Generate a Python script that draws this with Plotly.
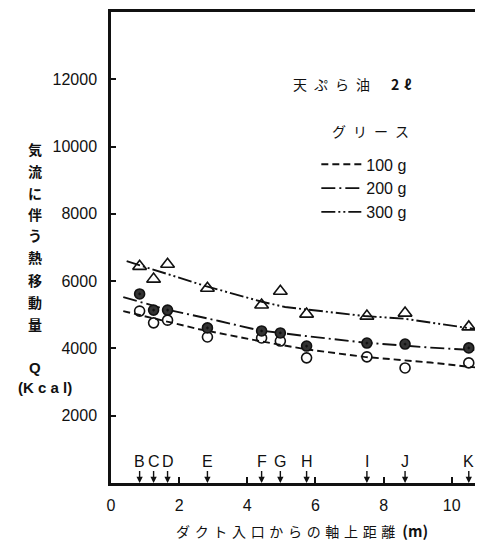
import plotly.graph_objects as go

# ---- data ----
stations = [0.84, 1.25, 1.66, 2.83, 4.42, 4.97, 5.74, 7.51, 8.63, 10.5]
station_labels = ["B", "C", "D", "E", "F", "G", "H", "I", "J", "K"]

q_100 = [5110, 4760, 4840, 4340, 4310, 4220, 3720, 3750, 3420, 3570]
q_200 = [5620, 5140, 5140, 4610, 4520, 4460, 4070, 4160, 4130, 4015]
q_300 = [6440, 6060, 6500, 5790, 5290, 5700, 5020, 4960, 5050, 4640]

fit_x_100 = [0.36, 1.62, 2.59, 4.34, 5.7, 7.44, 9.38, 10.74]
fit_y_100 = [5110, 4815, 4570, 4222, 3978, 3748, 3580, 3430]
fit_x_200 = [0.36, 1.62, 3.17, 4.34, 5.7, 7.44, 9.38, 10.74]
fit_y_200 = [5526, 5161, 4815, 4538, 4370, 4173, 4024, 3946]
fit_x_300 = [0.46, 1.43, 2.78, 4.43, 5.11, 7.44, 8.6, 10.74]
fit_y_300 = [6593, 6276, 5852, 5387, 5230, 4963, 4884, 4568]

x_ticks = [0, 2, 4, 6, 8, 10]
x_tick_labels = ["0", "2", "4", "6", "8", "10"]
y_ticks = [2000, 4000, 6000, 8000, 10000, 12000]
y_tick_labels = ["2000", "4000", "6000", "8000", "10000", "12000"]

# ---- layout helpers ----
OFF = 8  # default page body margin of the html page
W, H = 483 - OFF, 544 - OFF
# plot area in screenshot pixels
L, R, T, B = 111, 482, 10, 483
def px(x):
    return (x - L) / (R - L)
def py(y):
    return (B - y) / (B - T)

NUM_FONT = "Liberation Sans, Arial, sans-serif"
JP_FONT = "Noto Sans CJK JP"
INK = "#111111"
EN = "\u2002"
TH = "\u2004"

fig = go.Figure()

# fitted curves (legend entries)
fig.add_trace(go.Scatter(x=fit_x_100, y=fit_y_100, mode="lines", name="100 g",
                         line=dict(color=INK, width=1.9, dash="7px,4px")))
fig.add_trace(go.Scatter(x=fit_x_200, y=fit_y_200, mode="lines", name="200 g",
                         line=dict(color=INK, width=1.9, dash="14px,4px,2px,4px")))
fig.add_trace(go.Scatter(x=fit_x_300, y=fit_y_300, mode="lines", name="300 g",
                         line=dict(color=INK, width=1.9, dash="14px,3px,2px,3px,2px,3px")))

# measured points
fig.add_trace(go.Scatter(x=stations, y=q_100, mode="markers", showlegend=False,
                         marker=dict(symbol="circle-open", size=10, color=INK,
                                     line=dict(width=1.6, color=INK))))
fig.add_trace(go.Scatter(x=stations, y=q_200, mode="markers", showlegend=False,
                         marker=dict(symbol="circle-dot", size=10, color="#333333",
                                     line=dict(width=1.6, color=INK))))
fig.add_trace(go.Scatter(x=stations, y=q_300, mode="markers", showlegend=False,
                         marker=dict(symbol="triangle-up-open", size=12, color=INK,
                                     line=dict(width=1.6, color=INK))))

annotations = []

# station letters with arrows
for s, lab in zip(stations, station_labels):
    annotations.append(dict(x=s, y=0, xref="x", yref="y", text=lab,
                            showarrow=True, ax=0, ay=-22, arrowhead=2,
                            arrowsize=0.9, arrowwidth=1.4, arrowcolor=INK,
                            font=dict(family=NUM_FONT, size=16, color=INK)))

def label(xp, yp, text, size, family, xanchor="center", **kw):
    annotations.append(dict(x=px(xp), y=py(yp), xref="paper", yref="paper",
                            xanchor=xanchor, yanchor="middle", text=text,
                            showarrow=False,
                            font=dict(family=family, size=size, color=INK, **kw)))

# vertical y-axis title, one character per line
y_chars = ["気", "流", "に", "伴", "う", "熱", "移", "動", "量"]
y_char_pos = [148, 170, 192, 213, 234, 256, 279, 301, 323]
for ch, yy in zip(y_chars, y_char_pos):
    label(34, yy, ch, 14, JP_FONT, weight=700)
label(34, 367, "<b>Q</b>", 15, NUM_FONT)
label(44, 387, "<b>(K c a l)</b>", 15, NUM_FONT)

# x-axis title
label(175, 531,
      TH.join("ダクト入口からの軸上距離") + EN
      + "<span style='font-size:15px'><b>(m)</b></span>",
      14, JP_FONT, xanchor="left")

# in-plot titles
label(292, 82, EN.join("天ぷら油") + EN + EN + EN + "<b>2" + TH + "ℓ</b>",
      14, JP_FONT, xanchor="left")
label(373, 130, EN.join("グリース"), 14, JP_FONT)

fig.update_layout(
    width=W, height=H,
    margin=dict(l=L - OFF, r=(W + OFF) - R, t=T - OFF, b=(H + OFF) - B),
    paper_bgcolor="white", plot_bgcolor="white",
    showlegend=True,
    legend=dict(x=px(318), y=py(146), xanchor="left", yanchor="top",
                bgcolor="rgba(0,0,0,0)", borderwidth=0, tracegroupgap=0,
                itemwidth=40,
                font=dict(family=NUM_FONT, size=16, color=INK)),
    annotations=annotations,
    xaxis=dict(range=[0, 10.8], tickvals=x_ticks, ticktext=x_tick_labels,
               ticks="inside", ticklen=6,
               tickwidth=1.5, tickcolor=INK, showgrid=False, zeroline=False,
               showline=True, linecolor=INK, linewidth=2.5, mirror=True,
               ticklabelstandoff=6,
               tickfont=dict(family=NUM_FONT, size=16, color=INK)),
    yaxis=dict(range=[0, 14000], tickvals=y_ticks, ticktext=y_tick_labels,
               ticks="inside", ticklen=5,
               tickwidth=1.5, tickcolor=INK, showgrid=False, zeroline=False,
               showline=True, linecolor=INK, linewidth=2.5, mirror=True,
               ticklabelstandoff=8,
               tickfont=dict(family=NUM_FONT, size=16, color=INK)),
)

fig.write_html("out.html")
